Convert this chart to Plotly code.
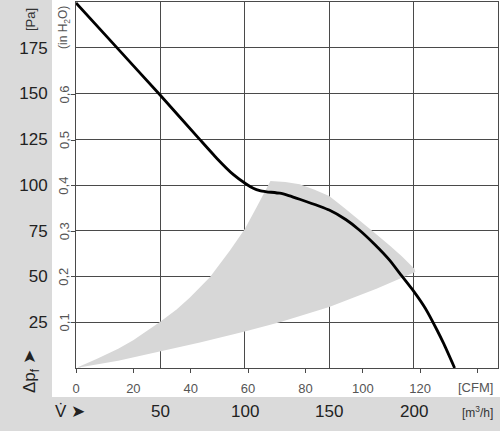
import plotly.graph_objects as go

# Kennlinie: Volumenstrom [m³/h] und Druck [Pa]
flow_m3h = [0, 23, 49.7, 73.4, 83.2, 93.1, 101, 105, 108.9, 113, 120.7, 126, 132.5, 150,
            160, 168, 177, 186, 193, 200, 207, 214, 218, 224.3]
pressure_pa = [199.5, 176.3, 149.3, 124.8, 114.8, 105.8, 100.4, 98.2, 96.9, 96.3, 95.5, 94.2, 92.2, 86.3,
               81, 75.3, 67.5, 58.7, 50.3, 42, 32.5, 20.5, 13, 0]

# Arbeitsbereich (grau)
area_flow = [0, 12.5, 25, 33.9, 49.7, 59.6, 67.5, 79.3, 91.1, 100, 106.9, 112.8, 115.2,
             124, 132.5, 141, 150, 159, 168, 177, 186, 193, 200.6,
             201, 178, 150, 120.7, 100, 73.4, 49.7, 25, 0]
area_pressure = [0, 5, 10.5, 15.2, 25.2, 32, 38.5, 49.6, 64.1, 76, 87.7, 98.6, 102.2,
                 101.6, 100.4, 97.5, 94, 87.5, 80.4, 73.8, 66.8, 61, 54.1,
                 52.5, 43.3, 33.3, 25, 20, 14, 8.9, 4, 0]

# Achsen
pa_ticks = [25, 50, 75, 100, 125, 150, 175]
inh2o_ticks = [0.1, 0.2, 0.3, 0.4, 0.5, 0.6]
inh2o_labels = ["0,1", "0,2", "0,3", "0,4", "0,5", "0,6"]
m3h_ticks = [50, 100, 150, 200]
cfm_ticks = [0, 20, 40, 60, 80, 100, 120, 140]
cfm_labels = ["0", "20", "40", "60", "80", "100", "120", ""]

PA_PER_INH2O = 249.089
M3H_PER_CFM = 1.699

W, H = 500, 431
L, R, T, B = 76, 2, 2, 63
pw, ph = W - L - R, H - T - B


def px(x):  # Pixel -> paper x
    return (x - L) / pw


def py(y):  # Pixel -> paper y
    return (H - B - y) / ph


FONT = "Liberation Sans, Arial, sans-serif"
GRAY = "#dadada"
GRID = "#4a4a4a"

fig = go.Figure()

fig.add_trace(go.Scatter(
    x=area_flow, y=area_pressure,
    fill="toself", fillcolor="#d7d7d7",
    line=dict(width=0), mode="lines",
    hoverinfo="skip", showlegend=False
))

fig.add_trace(go.Scatter(
    x=flow_m3h, y=pressure_pa,
    mode="lines", line=dict(color="black", width=2.8, shape="spline", smoothing=0.4),
    showlegend=False
))

# unsichtbare Spur für die Zweitachsen
fig.add_trace(go.Scatter(x=[0], y=[0], xaxis="x2", yaxis="y2", mode="markers",
                         marker=dict(opacity=0), showlegend=False, hoverinfo="skip"))

fig.update_layout(
    width=W, height=H,
    margin=dict(l=L, r=R, t=T, b=B, autoexpand=False),
    paper_bgcolor="white", plot_bgcolor="white",
    font=dict(family=FONT),
    xaxis=dict(
        range=[0, 250], tickvals=m3h_ticks, showticklabels=False, ticks="",
        showgrid=True, gridcolor=GRID, gridwidth=1, automargin=False,
        showline=True, linecolor=GRID, linewidth=1, mirror=True, zeroline=False
    ),
    yaxis=dict(
        range=[0, 200], tickvals=pa_ticks, ticks="", automargin=False,
        showgrid=True, gridcolor=GRID, gridwidth=1,
        showline=True, linecolor=GRID, linewidth=1, mirror=True, zeroline=False,
        tickfont=dict(size=17, color="#222"), ticklabelstandoff=24
    ),
    xaxis2=dict(
        overlaying="x", side="bottom", range=[0, 250 / M3H_PER_CFM], automargin=False,
        tickvals=cfm_ticks, ticktext=cfm_labels, ticks="outside", ticklen=4,
        tickcolor=GRID, showgrid=False, zeroline=False,
        tickfont=dict(size=13, color="#555"), ticklabelstandoff=4
    ),
    yaxis2=dict(
        overlaying="y", side="left", range=[0, 200 / PA_PER_INH2O], automargin=False,
        tickvals=inh2o_ticks, ticks="outside", ticklen=4, tickcolor=GRID,
        showticklabels=False, showgrid=False, zeroline=False
    ),
)

# graue Randbänder
fig.add_shape(type="rect", xref="paper", yref="paper", layer="below",
              x0=px(0), x1=px(52), y0=py(H), y1=py(0), fillcolor=GRAY, line_width=0)
fig.add_shape(type="rect", xref="paper", yref="paper", layer="below",
              x0=px(0), x1=px(W), y0=py(H), y1=py(397), fillcolor=GRAY, line_width=0)


def label(x, y, text, size, color, angle=0, xref="paper", yref="paper", xanchor="center"):
    fig.add_annotation(x=x, y=y, xref=xref, yref=yref, text=text, textangle=angle,
                       xanchor=xanchor, yanchor="middle", showarrow=False,
                       font=dict(size=size, color=color))


# in H2O Beschriftung
for v, t in zip(inh2o_ticks, inh2o_labels):
    label(px(64), v, t, 13, "#555", angle=-90, yref="y2")

# m³/h Beschriftung
for v in m3h_ticks:
    label(v, py(412), str(v), 17, "#222", xref="x")

label(px(495), py(412), "[m<sup>3</sup>/h]", 12, "#333", xanchor="right")
label(px(495), py(387), "[CFM]", 13, "#555", xanchor="right")
label(px(30), py(20), "[Pa]", 13, "#333", angle=-90)
label(px(64), py(28), "(in H<sub>2</sub>O)", 12, "#555", angle=-90)
label(px(31), py(372), "Δp<sub>f</sub> ➤", 17, "#222", angle=-90)
label(px(70), py(412), "V̇ ➤", 17, "#222")

# Browser-Rand entfernen, damit die Grafik bei (0, 0) beginnt
fig.write_html("out.html", config={"displayModeBar": False},
               post_script="document.body.style.margin='0';")
